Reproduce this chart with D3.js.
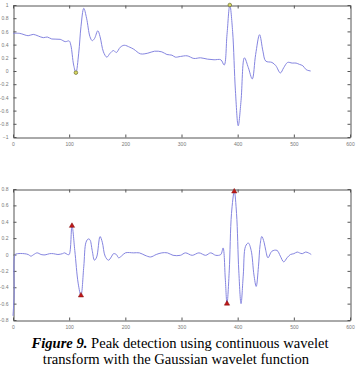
<!DOCTYPE html>
<html>
<head>
<meta charset="utf-8">
<script src="https://cdn.jsdelivr.net/npm/d3@7"></script>
<style>
  body { margin: 0; background: #fff; }
  svg { display: block; }
  .tick text { font-family: "Liberation Sans", Arial, sans-serif; font-size: 5px; fill: #777; }
</style>
</head>
<body>
<svg width="360" height="370"></svg>
<script>
// Top panel: signal (sample index, amplitude)
var topX = [0, 12, 27, 36, 45, 54, 61, 69, 84, 93, 100, 103, 108, 112, 117, 121, 126, 131, 137, 141,
  145, 151, 155, 161, 167, 173, 179, 184, 191, 198, 208, 215, 227, 240, 252, 265, 274, 283, 289, 298,
  310, 322, 334, 346, 358, 370, 376, 381, 386, 391, 396, 401, 406, 412, 419, 426, 432, 439, 445, 450,
  461, 468, 476, 482, 489, 497, 504, 510, 516, 522, 530];
var topY = [0.57, 0.57, 0.535, 0.555, 0.53, 0.505, 0.515, 0.485, 0.48, 0.445, 0.455, 0.39, 0.09, -0.025, 0.27, 0.67, 0.95, 0.80, 0.52, 0.46,
  0.49, 0.61, 0.52, 0.29, 0.21, 0.27, 0.31, 0.28, 0.36, 0.39, 0.36, 0.33, 0.26, 0.27, 0.30, 0.29, 0.25, 0.24, 0.21, 0.22,
  0.23, 0.19, 0.20, 0.18, 0.17, 0.17, 0.09, 0.55, 1.0, 0.6, -0.3, -0.83, -0.45, 0.20, 0.05, -0.12, 0.25, 0.55, 0.30, 0.15,
  0.13, 0.08, -0.03, 0.05, 0.13, 0.12, 0.12, 0.10, 0.08, 0.02, 0.0];
// detected extrema in the top panel
var topPeakX = [112, 386];
var topPeakY = [-0.025, 1.0];

// Bottom panel: wavelet coefficients
var botX = [0, 2, 4, 8, 20, 27, 32, 37, 43, 50, 57, 65, 72, 80, 88, 92, 97, 100, 105, 110,
  116, 121, 126, 130, 134, 137, 141, 145, 149, 155, 159, 164, 170, 175, 179, 184, 188, 193, 200, 215,
  225, 235, 245, 255, 265, 275, 285, 298, 307, 319, 331, 343, 352, 361, 370, 374, 378, 381, 385, 389,
  394, 398, 402, 406, 410, 414, 419, 424, 429, 433, 437, 440, 443, 447, 450, 454, 461, 470, 476, 482,
  488, 494, 500, 506, 510, 515, 521, 526, 531];
var botY = [-0.75, -0.5, 0.0, 0.01, 0.01, 0.0, -0.02, 0.0, 0.02, 0.0, -0.005, 0.01, 0.01, 0.0, 0.01, 0.02, 0.0, 0.0, 0.35, 0.05,
  -0.35, -0.5, -0.15, 0.15, 0.19, 0.18, 0.05, -0.07, -0.03, 0.22, 0.15, -0.02, -0.07, -0.03, 0.01, 0.0, -0.04, -0.02, 0.02, 0.02,
  0.02, -0.01, -0.03, 0.0, 0.02, 0.02, -0.01, -0.01, 0.02, -0.01, 0.02, -0.01, 0.02, -0.01, 0.0, 0.08, -0.3, -0.6, -0.2, 0.5,
  0.77, 0.5, -0.2, -0.6, -0.25, 0.1, 0.14, 0.05, -0.25, -0.39, -0.15, 0.12, 0.22, 0.15, 0.05, -0.04, 0.04, 0.05, -0.02, -0.09,
  -0.04, 0.0, 0.01, 0.03, 0.02, 0.01, 0.03, 0.02, 0.0];
var botPeakX = [105, 121, 381, 394];
var botPeakY = [0.35, -0.5, -0.6, 0.77];

var xTicks = [0, 100, 200, 300, 400, 500, 600];
var topTicks = [-1, -0.8, -0.6, -0.4, -0.2, 0, 0.2, 0.4, 0.6, 0.8, 1];
var botTicks = [-0.8, -0.6, -0.4, -0.2, 0, 0.2, 0.4, 0.6, 0.8];

var captionBold = 'Figure 9.';
var captionLine1 = ' Peak detection using continuous wavelet';
var captionLine2 = 'transform with the Gaussian wavelet function';

var svg = d3.select('svg');
var lineColor = '#8585e0';

function drawPanel(box, xs, ys, yDomain, yTicks, px, py, markerType) {
    var x = d3.scaleLinear().domain([0, 600]).range([box.l, box.r]);
    var y = d3.scaleLinear().domain(yDomain).range([box.b, box.t]);
    var g = svg.append('g');
    var fmt = function(d) { return d3.format('~g')(d); };

    // axes with inward ticks, MATLAB style box
    g.append('g').attr('transform', 'translate(0,' + (box.b + 0.5) + ')')
        .call(d3.axisBottom(x).tickValues(xTicks).tickSizeInner(-3).tickSizeOuter(0).tickPadding(5).tickFormat(fmt));
    g.append('g').attr('transform', 'translate(0,' + (box.t + 0.5) + ')')
        .call(d3.axisTop(x).tickValues(xTicks).tickSizeInner(-3).tickSizeOuter(0).tickFormat(''));
    g.append('g').attr('transform', 'translate(' + (box.l + 0.5) + ',0)')
        .call(d3.axisLeft(y).tickValues(yTicks).tickSizeInner(-3).tickSizeOuter(0).tickPadding(5).tickFormat(fmt));
    g.append('g').attr('transform', 'translate(' + (box.r + 0.5) + ',0)')
        .call(d3.axisRight(y).tickValues(yTicks).tickSizeInner(-3).tickSizeOuter(0).tickFormat(''));
    g.selectAll('.domain, .tick line').attr('stroke', '#555');

    var line = d3.line()
        .x(function(d) { return x(d[0]); })
        .y(function(d) { return y(d[1]); })
        .curve(d3.curveCatmullRom.alpha(0.5));
    g.append('path')
        .datum(d3.zip(xs, ys))
        .attr('fill', 'none')
        .attr('stroke', lineColor)
        .attr('stroke-width', 1)
        .attr('d', line);

    var pts = d3.zip(px, py);
    if (markerType === 'circle') {
        g.selectAll('circle.pk').data(pts).enter().append('circle')
            .attr('class', 'pk')
            .attr('cx', function(d) { return x(d[0]); })
            .attr('cy', function(d) { return y(d[1]); })
            .attr('r', 1.8)
            .attr('fill', '#d8d860')
            .attr('stroke', '#6b6b30')
            .attr('stroke-width', 0.7);
    } else {
        var tri = d3.symbol().type(d3.symbolTriangle).size(12);
        g.selectAll('path.pk').data(pts).enter().append('path')
            .attr('class', 'pk')
            .attr('transform', function(d) { return 'translate(' + x(d[0]) + ',' + y(d[1]) + ')'; })
            .attr('d', tri)
            .attr('fill', '#c01818')
            .attr('stroke', '#801010')
            .attr('stroke-width', 0.5);
    }
}

drawPanel({l: 13, r: 350, t: 5, b: 137}, topX, topY, [-1, 1], topTicks, topPeakX, topPeakY, 'circle');
drawPanel({l: 13, r: 350, t: 189, b: 320}, botX, botY, [-0.8, 0.8], botTicks, botPeakX, botPeakY, 'triangle');

// caption
var cap = svg.append('text')
    .attr('text-anchor', 'middle')
    .attr('font-family', '"Liberation Serif", "Times New Roman", serif')
    .attr('font-size', 14.6)
    .attr('fill', '#000');
var l1 = cap.append('tspan').attr('x', 180).attr('y', 348);
l1.append('tspan').attr('font-weight', 'bold').attr('font-style', 'italic').text(captionBold);
l1.append('tspan').text(captionLine1);
cap.append('tspan').attr('x', 176).attr('y', 364).text(captionLine2);
</script>
</body>
</html>
